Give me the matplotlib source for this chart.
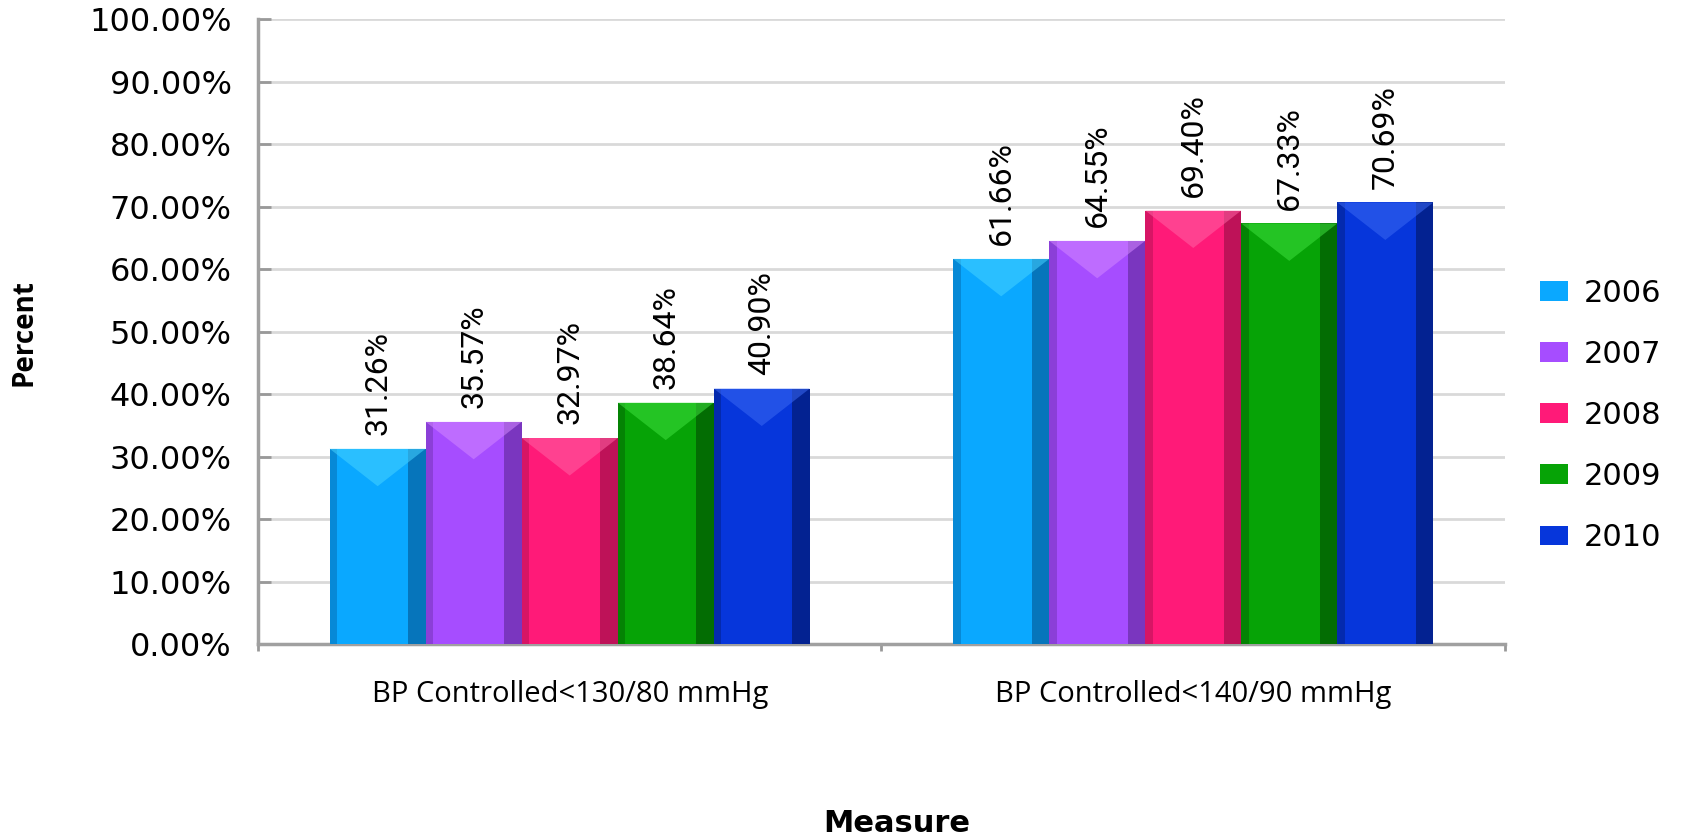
import matplotlib.pyplot as plt
from matplotlib.patches import Polygon
import numpy as np

categories = ["BP Controlled<130/80 mmHg", "BP Controlled<140/90 mmHg"]
years = ["2006", "2007", "2008", "2009", "2010"]
values = {
    "2006": [31.26, 61.66],
    "2007": [35.57, 64.55],
    "2008": [32.97, 69.40],
    "2009": [38.64, 67.33],
    "2010": [40.90, 70.69],
}
yticks = [0, 10, 20, 30, 40, 50, 60, 70, 80, 90, 100]

base_colors = ["#0AA8FF", "#A64DFF", "#FF1A78", "#06A306", "#0636DB"]
dark_colors = ["#0565A5", "#6C2FAA", "#A8104E", "#035C03", "#021C78"]
light_colors = ["#45D2FF", "#D286FF", "#FF62A4", "#3EE03E", "#3A68F2"]

fig = plt.figure(figsize=(16.88, 8.36), dpi=100)
ax = fig.add_axes([0.1528, 0.2297, 0.7388, 0.7471])

x = np.arange(len(categories))
w = 0.154
for i, yr in enumerate(years):
    xs = x + (i - 2) * w
    hs = values[yr]
    ax.bar(xs, hs, w, color=base_colors[i], zorder=3, label=yr)
    # side shading for a bevelled look
    ax.bar(xs + w * 0.41, hs, w * 0.18, color=dark_colors[i], alpha=0.75, zorder=4)
    ax.bar(xs - w * 0.46, hs, w * 0.08, color=dark_colors[i], alpha=0.45, zorder=4)
    for xc, h in zip(xs, hs):
        tri = Polygon([(xc - w / 2, h), (xc + w / 2, h), (xc, h - 6)],
                      closed=True, color=light_colors[i], alpha=0.55, zorder=5, lw=0)
        ax.add_patch(tri)
        ax.annotate(f"{h:.2f}%", (xc, h), xytext=(0, 10), textcoords="offset points",
                    rotation=90, ha="center", va="bottom", fontsize=23,
                    family=["Roboto", "DejaVu Sans"])

ax.set_xlim(-0.5, 1.5)
ax.set_ylim(0, 100)
ax.set_yticks(yticks)
ax.set_yticklabels([f"{v:.2f}%" for v in yticks], fontsize=23)
ax.tick_params(axis="y", direction="in", length=9, width=2, color="#999999", pad=19)

ax.set_xticks([-0.5, 0.5, 1.5])
ax.set_xticklabels([])
ax.tick_params(axis="x", which="major", direction="out", length=5, width=2, color="#999999")
ax.set_xticks(x, minor=True)
ax.set_xticklabels(categories, minor=True, fontsize=21, family="Open Sans")
ax.tick_params(axis="x", which="minor", length=0, pad=26)

ax.grid(axis="y", color="#d9d9d9", lw=2, zorder=0)
for s in ["top", "right"]:
    ax.spines[s].set_visible(False)
for s in ["left", "bottom"]:
    ax.spines[s].set_color("#a0a0a0")
    ax.spines[s].set_linewidth(2.5)

fig.text(24 / 1688, 0.602, "Percent", rotation=90, ha="center", va="center",
         fontsize=20, fontweight="bold", family="Open Sans")
fig.text(897 / 1688, 1 - 823 / 836, "Measure", ha="center", va="center",
         fontsize=22, fontweight="bold")

handles, labels = ax.get_legend_handles_labels()
fig.legend(handles, labels, loc="center left", bbox_to_anchor=(0.9123, 0.503),
           frameon=False, fontsize=22, handlelength=0.92, handleheight=0.62,
           handletextpad=0.5, labelspacing=1.05, borderpad=0, borderaxespad=0)

fig.savefig("out.png", dpi=100)
